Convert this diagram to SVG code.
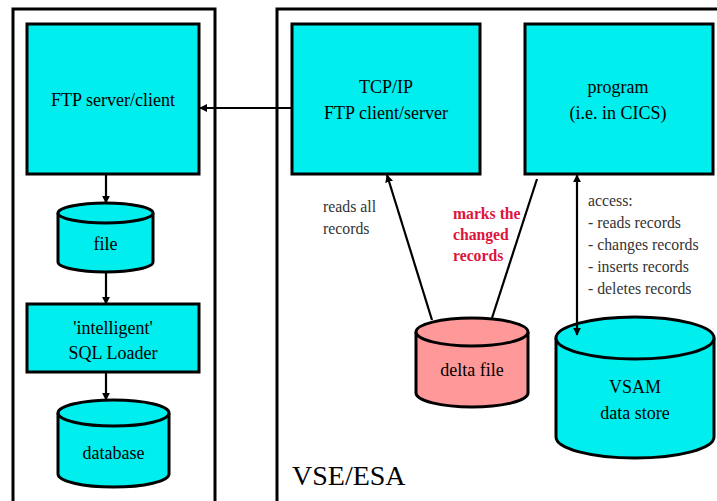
<svg xmlns="http://www.w3.org/2000/svg" width="717" height="501" viewBox="0 0 717 501">
  <defs>
    <marker id="arrow" viewBox="0 0 10 10" refX="9" refY="5" markerWidth="8" markerHeight="8" markerUnits="userSpaceOnUse" orient="auto-start-reverse">
      <path d="M0,0 L10,5 L0,10 z" fill="#000"/>
    </marker>
    <style>
      .frame { fill: none; stroke: #000; stroke-width: 3; }
      .box { fill: #00EEEE; stroke: #000; stroke-width: 3; }
      .delta { fill: #FF9999; stroke: #000; stroke-width: 3; }
      .link { fill: none; stroke: #000; stroke-width: 2.2; }
      .t { font-family: "Liberation Serif", "Times New Roman", serif; font-size: 18px; fill: #000; text-anchor: middle; }
      .note { font-family: "Liberation Serif", "Times New Roman", serif; font-size: 15.8px; fill: #333; }
      .mark { font-family: "Liberation Serif", "Times New Roman", serif; font-size: 15.7px; font-weight: bold; fill: #DC143C; }
      .big { font-family: "Liberation Serif", "Times New Roman", serif; font-size: 28px; fill: #000; }
    </style>
  </defs>

  <rect width="717" height="501" fill="#fff"/>

  <!-- system frames -->
  <g id="frame-left">
    <path class="frame" d="M13,503 L13,9 L215,9 L215,503"/>
  </g>
  <g id="frame-vse">
    <path class="frame" d="M277,503 L277,9 L720,9"/>
    <text class="big" x="292" y="485">VSE/ESA</text>
  </g>

  <!-- left side -->
  <g id="ftp-server">
    <rect class="box" x="27" y="24" width="172" height="150"/>
    <text class="t" x="113" y="106">FTP server/client</text>
  </g>
  <g id="file">
    <path class="box" d="M58,213 L58,262 A47.5,10 0 0 0 153,262 L153,213"/>
    <ellipse class="box" cx="105.5" cy="213" rx="47.5" ry="10"/>
    <text class="t" x="105.5" y="250">file</text>
  </g>
  <g id="sql-loader">
    <rect class="box" x="27" y="304" width="172" height="68"/>
    <text class="t" x="113" y="334">'intelligent'</text>
    <text class="t" x="113" y="359">SQL Loader</text>
  </g>
  <g id="database">
    <path class="box" d="M58,413 L58,474 A55.5,13 0 0 0 169,474 L169,413"/>
    <ellipse class="box" cx="113.5" cy="413" rx="55.5" ry="13"/>
    <text class="t" x="113.5" y="459">database</text>
  </g>

  <!-- VSE/ESA side -->
  <g id="tcpip">
    <rect class="box" x="292" y="24" width="188" height="150"/>
    <text class="t" x="386" y="93">TCP/IP</text>
    <text class="t" x="386" y="119">FTP client/server</text>
  </g>
  <g id="program">
    <rect class="box" x="525" y="24" width="188" height="150"/>
    <text class="t" x="618" y="93">program</text>
    <text class="t" x="618" y="119">(i.e. in CICS)</text>
  </g>
  <g id="delta-file">
    <path class="delta" d="M416,332 L416,393 A56,14 0 0 0 528,393 L528,332"/>
    <ellipse class="delta" cx="472" cy="332" rx="56" ry="14"/>
    <text class="t" x="472" y="376">delta file</text>
  </g>
  <g id="vsam">
    <path class="box" d="M556,338 L556,437 A79,21 0 0 0 714,437 L714,338"/>
    <ellipse class="box" cx="635" cy="338" rx="79" ry="21"/>
    <text class="t" x="635" y="393">VSAM</text>
    <text class="t" x="635" y="419">data store</text>
  </g>

  <!-- connectors -->
  <g id="connectors">
    <line class="link" x1="292" y1="108" x2="200" y2="108" marker-end="url(#arrow)"/>
    <line class="link" x1="106" y1="174" x2="106" y2="203" marker-end="url(#arrow)"/>
    <line class="link" x1="106" y1="272" x2="106" y2="304" marker-end="url(#arrow)"/>
    <line class="link" x1="106" y1="372" x2="106" y2="400" marker-end="url(#arrow)"/>
    <line class="link" x1="432" y1="320" x2="387" y2="175" marker-end="url(#arrow)"/>
    <line class="link" x1="492" y1="318" x2="537" y2="179"/>
    <line class="link" x1="577" y1="175" x2="577" y2="335" marker-start="url(#arrow)" marker-end="url(#arrow)"/>
  </g>

  <!-- connector labels -->
  <g id="labels">
    <text class="note" x="323" y="212">reads all</text>
    <text class="note" x="323" y="234">records</text>
    <text class="mark" x="453" y="219">marks the</text>
    <text class="mark" x="453" y="240">changed</text>
    <text class="mark" x="453" y="261">records</text>
    <text class="note" x="588" y="206">access:</text>
    <text class="note" x="588" y="228">- reads records</text>
    <text class="note" x="588" y="250">- changes records</text>
    <text class="note" x="588" y="272">- inserts records</text>
    <text class="note" x="588" y="294">- deletes records</text>
  </g>
</svg>
